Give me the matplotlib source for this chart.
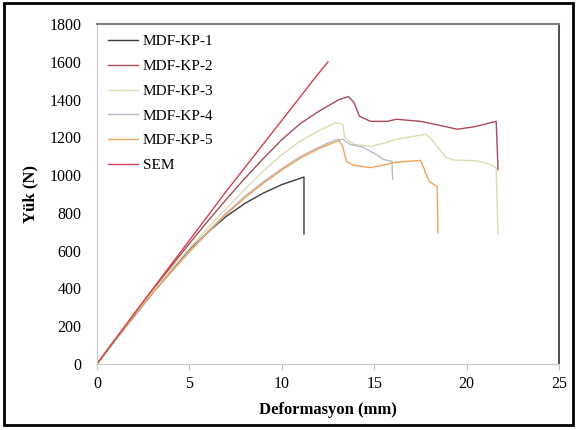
import matplotlib.pyplot as plt
from matplotlib.patches import Rectangle

plt.rcParams['font.family'] = ['Liberation Serif', 'DejaVu Serif']

# load-deformation readings (mm, N)
kp1_x = [0, 1, 2, 3, 4, 5, 6, 7, 8, 9, 10, 10.6, 11.2, 11.2]
kp1_y = [0, 127, 252, 375, 494, 606, 698, 782, 850, 905, 950, 970, 990, 688]

kp2_x = [0, 1, 2, 3, 4, 5, 6, 7, 8, 9, 10, 11, 12, 12.6, 13.1, 13.6, 13.9, 14.2,
         14.8, 15.7, 16.2, 17.5, 18.5, 19.5, 20.5, 21.6, 21.7]
kp2_y = [0, 132, 262, 390, 515, 638, 757, 872, 983, 1088, 1188, 1273, 1338, 1372,
         1400, 1416, 1386, 1312, 1285, 1285, 1296, 1285, 1265, 1243, 1258, 1285,
         1030]

kp3_x = [0, 1, 2, 3, 4, 5, 6, 7, 8, 9, 10, 11, 12, 12.9, 13.3, 13.4, 13.9, 14.8,
         15.7, 16.2, 17.5, 17.8, 18.1, 18.5, 18.9, 19.3, 20.0, 20.6, 21.2, 21.6, 21.7]
kp3_y = [0, 131, 259, 382, 500, 612, 720, 825, 925, 1022, 1108, 1180, 1235, 1278,
         1270, 1200, 1163, 1152, 1174, 1190, 1212, 1216, 1190, 1140, 1094, 1080,
         1078, 1075, 1060, 1040, 690]

kp4_x = [0, 1, 2, 3, 4, 5, 6, 7, 8, 9, 10, 11, 12, 12.9, 13.3, 13.7, 14.4, 15.1,
         15.5, 15.96, 16.0]
kp4_y = [0, 130, 256, 375, 488, 598, 702, 800, 888, 965, 1035, 1098, 1148, 1186,
         1190, 1163, 1147, 1110, 1083, 1073, 977]

kp5_x = [0, 1, 2, 3, 4, 5, 6, 7, 8, 9, 10, 11, 12, 13.1, 13.3, 13.5, 13.9, 14.8,
         15.7, 16.0, 17.5, 17.65, 17.85, 18.0, 18.4, 18.45]
kp5_y = [0, 129, 254, 372, 484, 593, 697, 793, 880, 957, 1027, 1090, 1140, 1184,
         1150, 1073, 1052, 1040, 1057, 1067, 1078, 1047, 993, 965, 940, 695]

sem_x = [0, 1, 2, 3, 4, 5, 6, 7, 8, 9, 10, 11, 12, 12.5]
sem_y = [0, 133, 265, 395, 525, 655, 785, 915, 1040, 1165, 1290, 1415, 1540, 1600]

series = [
    ('MDF-KP-1', kp1_x, kp1_y, '#3c3c3c'),
    ('MDF-KP-2', kp2_x, kp2_y, '#a64b58'),
    ('MDF-KP-3', kp3_x, kp3_y, '#d9dcb2'),
    ('MDF-KP-4', kp4_x, kp4_y, '#b9b9cc'),
    ('MDF-KP-5', kp5_x, kp5_y, '#eda55a'),
    ('SEM', sem_x, sem_y, '#d2404e'),
]

fig = plt.figure(figsize=(5.79, 4.30), dpi=100)
ax = fig.add_axes([0.1675, 0.1535, 0.798, 0.7905])

for name, xs, ys, col in series:
    ax.plot(xs, ys, '-', color=col, lw=1.0, label=name)

ax.set_xlim(0, 25)
ax.set_ylim(0, 1800)
ax.set_xticks(range(0, 26, 5))
ax.set_yticks(range(0, 1801, 200))
ax.tick_params(axis='both', labelsize=11.5)
ax.tick_params(axis='x', length=4, color='#c0c0c0', pad=5)
ax.tick_params(axis='y', length=0, pad=11)

ax.spines['left'].set_color('#c8c8c8')
ax.spines['bottom'].set_color('#c8c8c8')
ax.spines['top'].set_color('#808080')
ax.spines['top'].set_linewidth(1.5)
ax.spines['right'].set_color('#404040')
ax.spines['right'].set_linewidth(1.3)

ax.set_xlabel('Deformasyon (mm)', fontsize=12, fontweight='bold', labelpad=7)
ax.set_ylabel('Yük (N)', fontsize=12, fontweight='bold', labelpad=8)

ax.legend(loc='upper left', frameon=False, fontsize=11, handlelength=2.0,
          handletextpad=0.3, labelspacing=0.72, borderaxespad=0.3)

fig.patches.append(Rectangle((0.007, 0.012), 0.983, 0.981, transform=fig.transFigure,
                             fill=False, edgecolor='black', lw=2))

fig.savefig('out.png', dpi=100)
